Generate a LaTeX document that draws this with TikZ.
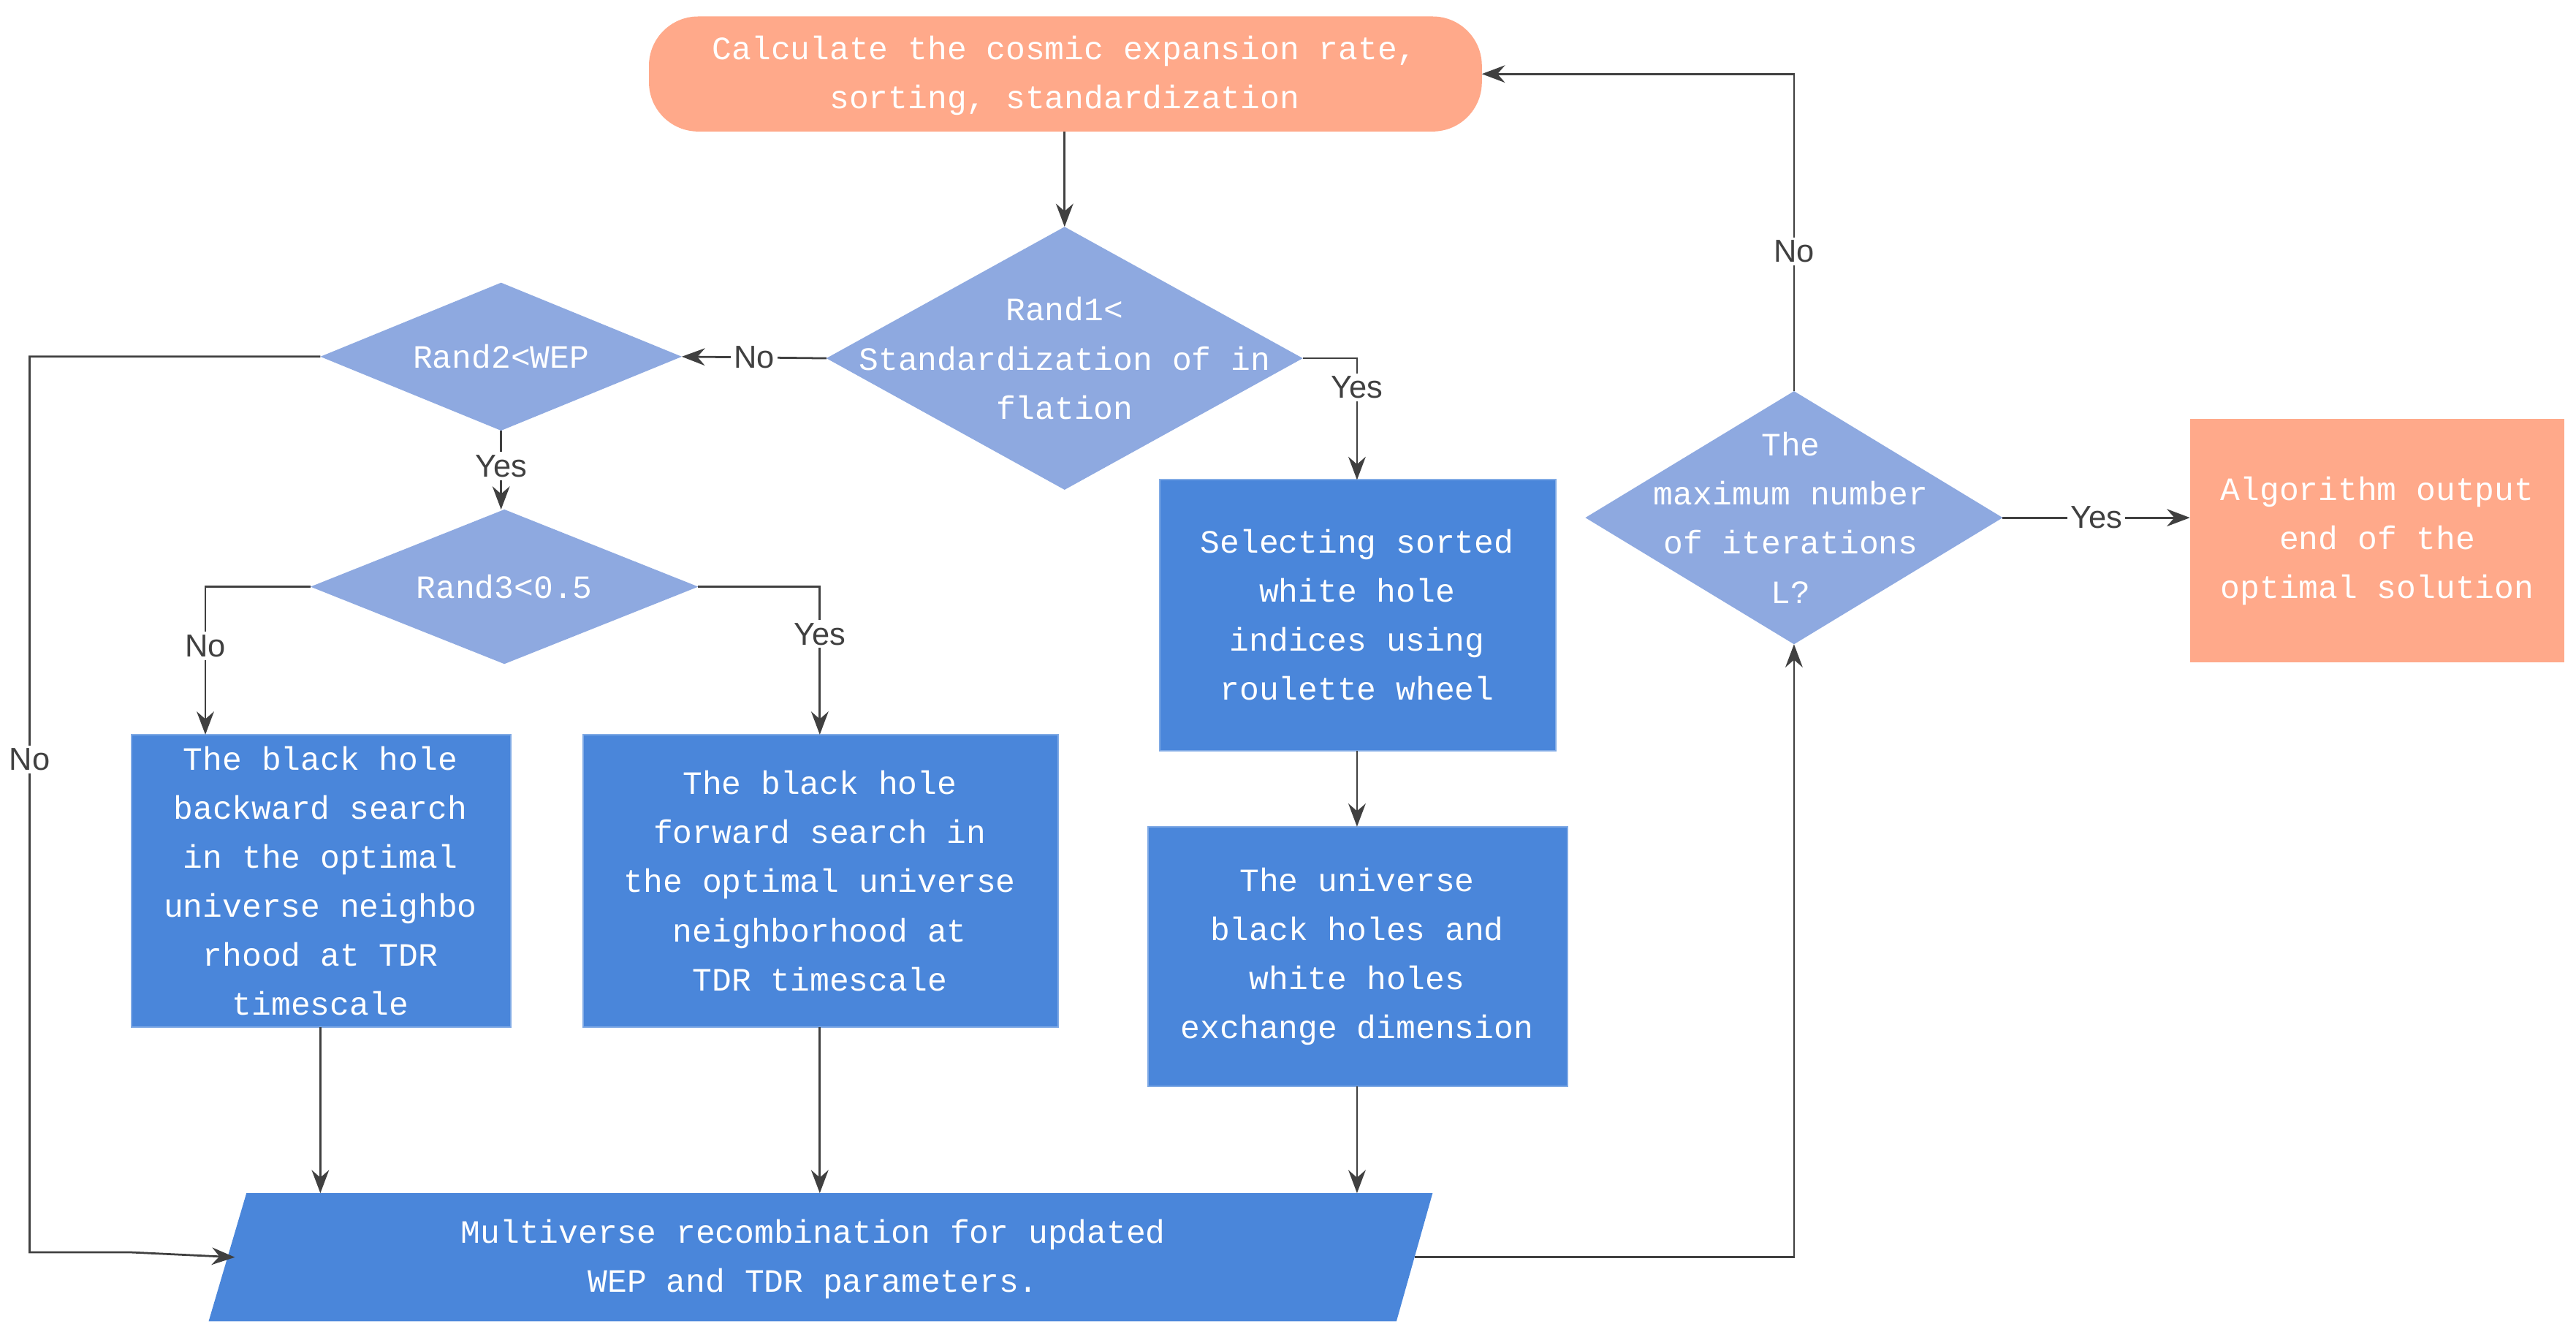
\documentclass[tikz,border=0pt]{standalone}
\usepackage{fontspec}
\setmainfont{Liberation Sans}
\newfontfamily\monof{Liberation Mono}
\usetikzlibrary{arrows.meta}
\definecolor{salm}{HTML}{FFA98A}
\definecolor{dia}{HTML}{8EA9E0}
\definecolor{boxc}{HTML}{4A86DA}
\definecolor{ln}{HTML}{404040}
\begin{document}
\begin{tikzpicture}[x=0.02cm,y=-0.02cm,
  txt/.style={text=white,align=center,font=\monof\fontsize{11.3}{17}\selectfont,inner sep=0},
  box/.style={fill=boxc,draw=boxc!70!white,line width=0.5pt},
  lab/.style={fill=white,inner sep=1pt,font=\fontsize{11}{13}\selectfont,text=ln},
  con/.style={draw=ln,line width=0.7pt,-{Stealth[length=8pt,width=6pt]}},
  ln/.style={draw=ln,line width=0.7pt}]
\useasboundingbox (0,0) rectangle (1568,815);
% shapes
\fill[salm,rounded corners=0.6cm] (395,10) rectangle (902,80);
\fill[dia] (503,218)--(648,138)--(793,218)--(648,298)--cycle;
\fill[dia] (195,217)--(305,172)--(415,217)--(305,262)--cycle;
\fill[dia] (189,357)--(307,310)--(425,357)--(307,404)--cycle;
\fill[dia] (965,315)--(1092,238)--(1219,315)--(1092,392)--cycle;
\fill[salm] (1333,255) rectangle (1561,403);
\path[box] (80,447) rectangle (311,625);
\path[box] (355,447) rectangle (644,625);
\path[box] (706,292) rectangle (947,457);
\path[box] (699,503) rectangle (954,661);
\fill[boxc] (127,804)--(150,726)--(872,726)--(850,804)--cycle;
% texts
\node[txt] (top) at (648,46) {Calculate the cosmic expansion rate,\\sorting, standardization};
\node[txt] (d1) at (648,218) {Rand1<\\Standardization of in\\flation};
\node[txt] (d2) at (305,217) {Rand2<WEP};
\node[txt] (d3) at (307,357) {Rand3<0.5};
\node[txt] (d4) at (1090,315) {The\\maximum number\\of iterations\\L?};
\node[txt] (out) at (1447,329) {Algorithm output\\end of the\\optimal solution};
\node[txt] (bl) at (195,536) {The black hole\\backward search\\in the optimal\\universe neighbo\\rhood at TDR\\timescale};
\node[txt] (bm) at (499,536) {The black hole\\forward search in\\the optimal universe\\neighborhood at\\TDR timescale};
\node[txt] (br1) at (826,374) {Selecting sorted\\white hole\\indices using\\roulette wheel};
\node[txt] (br2) at (826,582) {The universe\\black holes and\\white holes\\exchange dimension};
\node[txt] (par) at (495,766) {Multiverse recombination for updated\\WEP and TDR parameters.};
% coordinates
\coordinate (topB) at (648,80); \coordinate (topR) at (902,45);
\coordinate (d1T) at (648,138); \coordinate (d1L) at (503,218); \coordinate (d1R) at (793,218);
\coordinate (d2L) at (195,217); \coordinate (d2R) at (415,217); \coordinate (d2B) at (305,262);
\coordinate (d3T) at (305,310); \coordinate (d3L) at (189,357); \coordinate (d3R) at (425,357);
\coordinate (d4T) at (1092,238); \coordinate (d4B) at (1092,392); \coordinate (d4R) at (1219,315);
\coordinate (outL) at (1333,315);
\coordinate (blT) at (125,447); \coordinate (blB) at (195,625);
\coordinate (bmT) at (499,447); \coordinate (bmB) at (499,625);
\coordinate (br1T) at (826,292); \coordinate (br1B) at (826,457);
\coordinate (br2T) at (826,503); \coordinate (br2B) at (826,661);
\coordinate (parL) at (143,765); \coordinate (parR) at (861,765);
\coordinate (parT1) at (195,726); \coordinate (parT2) at (499,726); \coordinate (parT3) at (826,726);
% connectors
\draw[con] (topB) -- (d1T);
\draw[con] (d1L) -- node[lab]{No} (d2R);
\draw[con] (d1R) -| node[lab,pos=0.62]{Yes} (br1T);
\draw[con] (d2B) -- node[lab,pos=0.45]{Yes} (d3T);
\draw[con] (d2L) -- (18,217) -- node[lab,pos=0.45]{No} (18,762) -- (80,762) -- (parL);
\draw[con] (d3L) -| node[lab,pos=0.7]{No} (blT);
\draw[con] (d3R) -| node[lab,pos=0.66]{Yes} (bmT);
\draw[con] (blB) -- (parT1);
\draw[con] (bmB) -- (parT2);
\draw[con] (br1B) -- (br2T);
\draw[con] (br2B) -- (parT3);
\draw[con] (parR) -| (d4B);
\draw[con] (d4T) |- node[lab,pos=0.22]{No} (topR);
\draw[con] (d4R) -- node[lab,pos=0.5]{Yes} (outL);
\end{tikzpicture}
\end{document}
